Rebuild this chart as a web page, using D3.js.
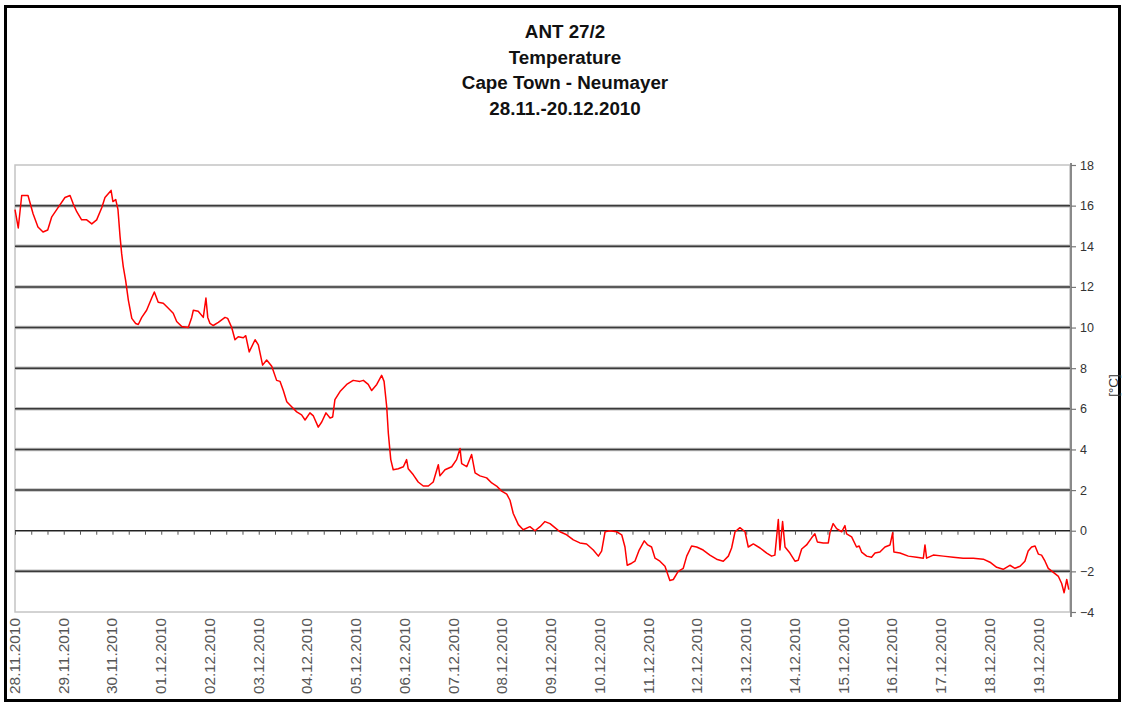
<!DOCTYPE html>
<html>
<head>
<meta charset="utf-8">
<script src="https://cdn.jsdelivr.net/npm/d3@7"></script>
<style>
  body { margin: 0; background: #fff; }
  svg { display: block; font-family: Arial, "Liberation Sans", sans-serif; }
</style>
</head>
<body>
<svg id="chart" width="1123" height="704"></svg>
<script>
// Temperature log of the ANT 27/2 leg.
const TITLE_LINES = ["ANT 27/2", "Temperature", "Cape Town - Neumayer", "28.11.-20.12.2010"];
const Y_TICKS = [-4, -2, 0, 2, 4, 6, 8, 10, 12, 14, 16, 18];
const Y_LABEL = "[°C]";

// hours since 28.11.2010 00:00
const hours = [
  0, 1.6, 3.3, 6.4, 8.9, 11.3, 13.8, 16.1, 18.1, 21.2, 24.6, 27.1, 28.6, 30.4, 32.8, 35.3, 37.8, 40.2,
  42.7, 44.3, 47.3, 48.2, 49.6, 50.7, 51.7, 52.5, 53.3, 54.5, 55.8, 57.5, 59.4, 60.7, 62.4, 64.8, 67.3,
  68.6, 70.5, 73.0, 75.5, 77.9, 79.6, 82.1, 85.3, 87.0, 87.8, 90.2, 92.7, 94.0, 94.9, 96.0, 97.6, 100.1,
  103.4, 104.7, 106.7, 108.3, 109.9, 112.4, 113.6, 115.3, 118.2, 119.8, 121.9, 123.9, 126.4, 128.8, 130.5,
  132.1, 133.8, 136.2, 138.7, 141.1, 142.8, 145.2, 146.9, 149.3, 151.0, 153.1, 155.1, 156.4, 157.5, 160.0,
  163.3, 166.5, 169.8, 171.5, 173.9, 175.6, 178.1, 180.5, 181.7, 183.0, 183.8, 185.0, 186.2, 188.7, 191.2,
  192.8, 193.6, 196.1, 198.5, 201.0, 203.5, 205.9, 208.4, 209.2, 211.7, 215.0, 217.4, 219.1, 219.9, 222.4,
  224.8, 226.5, 228.9, 232.2, 234.7, 237.1, 239.6, 242.1, 243.7, 245.3, 247.8, 250.2, 253.5, 256.0, 258.5,
  260.9, 263.4, 265.8, 268.3, 271.6, 274.9, 278.1, 281.4, 284.7, 287.2, 288.8, 290.5, 292.9, 296.2, 298.7,
  300.3, 301.4, 303.6, 305.2, 307.3, 309.8, 311.5, 313.4, 315.1, 317.5, 320.0, 322.4, 324.1, 326.5, 329.0,
  330.7, 333.1, 335.6, 338.8, 342.1, 345.4, 348.7, 351.2, 352.8, 354.5, 356.9, 359.4, 361.0, 363.5, 366.8,
  370.1, 372.5, 374.1, 375.8, 376.6, 377.9, 379.1, 381.5, 384.0, 385.6, 387.3, 389.7, 392.2, 393.8, 395.0,
  397.9, 400.4, 401.2, 402.8, 404.5, 407.0, 408.6, 409.4, 411.9, 414.3, 415.6, 416.8, 419.3, 421.7, 423.4,
  425.8, 428.3, 430.8, 432.1, 432.7, 435.7, 439.8, 443.9, 447.2, 448.0, 448.8, 452.1, 457.0, 461.9, 466.8,
  471.8, 476.7, 480.0, 483.3, 486.5, 489.8, 492.3, 494.8, 497.2, 498.8, 500.5, 502.2, 503.8, 505.4, 507.1,
  508.7, 511.2, 513.7, 515.3, 516.5, 517.8, 518.8
];
const temps = [
  15.8, 14.9, 16.5, 16.5, 15.6, 14.95, 14.7, 14.8, 15.45, 15.9, 16.4, 16.5, 16.1, 15.7, 15.3, 15.3, 15.1, 15.3,
  15.9, 16.4, 16.75, 16.2, 16.3, 15.8, 14.5, 13.65, 13.0, 12.3, 11.35, 10.45, 10.2, 10.15, 10.5, 10.85, 11.45,
  11.75, 11.25, 11.2, 10.95, 10.7, 10.3, 10.05, 10.0, 10.5, 10.85, 10.8, 10.5, 11.45, 10.5, 10.2, 10.1, 10.25,
  10.5, 10.45, 10.0, 9.4, 9.55, 9.5, 9.6, 8.8, 9.4, 9.15, 8.15, 8.4, 8.1, 7.4, 7.35,
  6.9, 6.35, 6.1, 5.85, 5.7, 5.45, 5.8, 5.65, 5.1, 5.35, 5.8, 5.55, 5.6, 6.45, 6.85,
  7.2, 7.4, 7.35, 7.4, 7.2, 6.9, 7.2, 7.65, 7.35, 6.1, 4.8, 3.5, 3.0, 3.05, 3.15,
  3.5, 3.05, 2.75, 2.4, 2.2, 2.2, 2.4, 3.25, 2.7, 3.0, 3.15, 3.5, 4.05, 3.3, 3.15,
  3.75, 2.85, 2.7, 2.6, 2.35, 2.2, 1.95, 1.8, 1.5, 0.85, 0.3, 0.05, 0.2, 0.0, 0.2,
  0.45, 0.35, 0.15, -0.05, -0.2, -0.45, -0.6, -0.65, -0.95, -1.25, -1.0, -0.05, 0.0, -0.05, -0.2,
  -0.8, -1.7, -1.6, -1.5, -0.95, -0.5, -0.7, -0.8, -1.35, -1.5, -1.75, -2.45, -2.4, -2.0, -1.85,
  -1.25, -0.75, -0.8, -0.95, -1.2, -1.4, -1.5, -1.25, -0.85, -0.05, 0.15, -0.05, -0.8, -0.65, -0.85,
  -1.1, -1.25, -1.2, 0.55, -0.95, 0.45, -0.8, -1.1, -1.5, -1.45, -0.9, -0.7, -0.35, -0.15, -0.55,
  -0.6, -0.6, -0.1, 0.35, 0.1, -0.05, 0.25, -0.15, -0.3, -0.8, -0.75, -1.05, -1.25, -1.3, -1.1,
  -1.05, -0.8, -0.7, -0.1, -1.05, -1.1, -1.25, -1.3, -1.35, -0.7, -1.35, -1.2, -1.25, -1.3, -1.35,
  -1.35, -1.4, -1.55, -1.8, -1.9, -1.7, -1.85, -1.75, -1.5, -1.0, -0.8, -0.75, -1.15, -1.2, -1.5,
  -1.85, -2.05, -2.25, -2.6, -3.05, -2.4, -2.9
];
const END_HOURS = 519.4;

const start = new Date(2010, 10, 28);
const atHour = h => new Date(+start + h * 3600e3);
const series = hours.map((h, i) => ({ t: atHour(h), v: temps[i] }));

const plot = { left: 15, right: 1070, top: 165, bottom: 612 };

const svg = d3.select("#chart");

// outer frame
svg.append("rect")
  .attr("x", 5.5).attr("y", 6.5).attr("width", 1114).attr("height", 694)
  .attr("fill", "#fff").attr("stroke", "#000").attr("stroke-width", 3);

const x = d3.scaleTime()
  .domain([start, atHour(END_HOURS)])
  .range([plot.left, plot.right]);
const y = d3.scaleLinear()
  .domain([-4, 18])
  .range([plot.bottom, plot.top]);

// title
svg.append("g")
  .selectAll("text")
  .data(TITLE_LINES)
  .join("text")
  .attr("x", 565)
  .attr("y", (d, i) => 38 + i * 25.7)
  .attr("text-anchor", "middle")
  .attr("font-size", 18.8)
  .attr("font-weight", "bold")
  .attr("fill", "#111")
  .text(d => d);

// plot area border
svg.append("rect")
  .attr("x", plot.left).attr("y", plot.top)
  .attr("width", plot.right - plot.left).attr("height", plot.bottom - plot.top)
  .attr("fill", "none").attr("stroke", "#c4c4c4").attr("stroke-width", 1.5);

// horizontal grid lines (0 is drawn as the category axis)
const inner = Y_TICKS.filter(v => v !== 0 && v !== -4 && v !== 18);
const grid = svg.append("g");
grid.selectAll("line.halo")
  .data(inner).join("line")
  .attr("x1", plot.left).attr("x2", plot.right)
  .attr("y1", d => y(d)).attr("y2", d => y(d))
  .attr("stroke", "#bdbdbd").attr("stroke-width", 3.5);
grid.selectAll("line.core")
  .data(inner).join("line")
  .attr("x1", plot.left).attr("x2", plot.right)
  .attr("y1", d => y(d)).attr("y2", d => y(d))
  .attr("stroke", "#3a3a3a").attr("stroke-width", 1.5);

// right value axis
const yAxis = svg.append("g")
  .attr("transform", `translate(${plot.right + 1},0)`)
  .call(d3.axisRight(y).tickValues(Y_TICKS).tickSize(5).tickPadding(4));
yAxis.select(".domain").attr("stroke", "#8a8a8a").attr("stroke-width", 2)
  .attr("d", `M0,${plot.top - 2}V${plot.bottom + 5}`);
yAxis.selectAll(".tick line").attr("stroke", "#777").attr("stroke-width", 1.2);
yAxis.selectAll(".tick text")
  .attr("font-size", 12.5).attr("fill", "#333")
  .attr("font-family", "Arial, 'Liberation Sans', sans-serif");

svg.append("text")
  .attr("transform", `translate(1113,${(plot.top + plot.bottom) / 2 - 3}) rotate(-90)`)
  .attr("text-anchor", "middle")
  .attr("dy", "0.35em")
  .attr("font-size", 13.5)
  .attr("fill", "#333")
  .text(Y_LABEL);

// category axis crossing at 0, ticks every 8 hours
const xAxis = svg.append("g")
  .attr("transform", `translate(0,${y(0)})`)
  .call(d3.axisBottom(x).ticks(d3.timeHour.every(8)).tickSize(4).tickFormat(""));
xAxis.select(".domain").attr("stroke", "#222").attr("stroke-width", 1.3)
  .attr("d", `M${plot.left},0H${plot.right}`);
xAxis.selectAll(".tick line").attr("stroke", "#555").attr("stroke-width", 1);

// day labels along the bottom, rotated
const days = d3.timeDay.range(start, atHour(END_HOURS - 12));
const fmt = d3.timeFormat("%d.%m.%Y");
svg.append("g")
  .selectAll("text")
  .data(days)
  .join("text")
  .attr("transform", d => `translate(${x(d)},${plot.bottom + 6}) rotate(-90)`)
  .attr("text-anchor", "end")
  .attr("dy", "0.35em")
  .attr("font-size", 14)
  .attr("fill", "#555")
  .attr("textLength", 76)
  .attr("lengthAdjust", "spacingAndGlyphs")
  .text(d => fmt(d));

// temperature line
const line = d3.line()
  .x(d => x(d.t))
  .y(d => y(d.v));

svg.append("path")
  .datum(series)
  .attr("d", line)
  .attr("fill", "none")
  .attr("stroke", "#ff0000")
  .attr("stroke-width", 1.5)
  .attr("stroke-linejoin", "round");
</script>
</body>
</html>
